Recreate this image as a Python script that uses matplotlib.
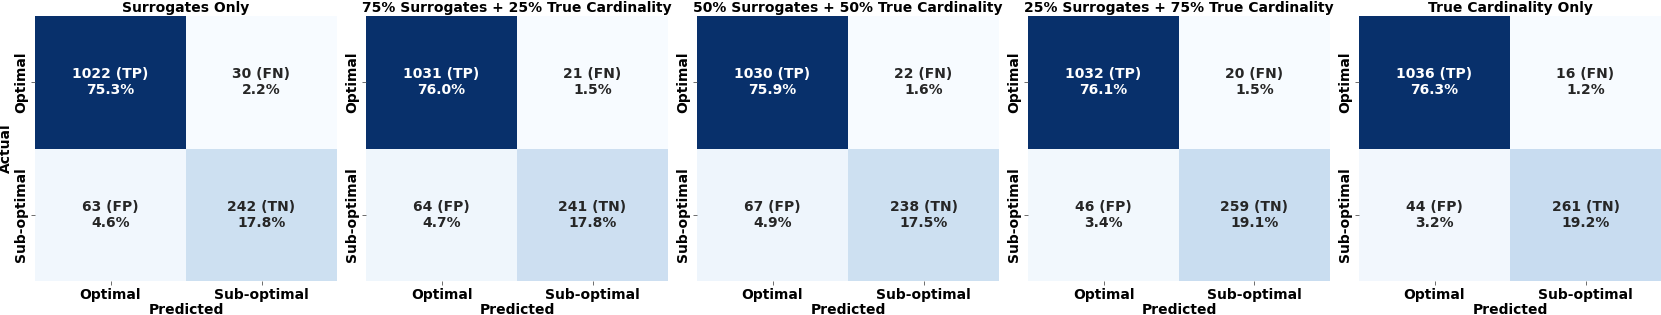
import numpy as np
import matplotlib
matplotlib.use("Agg")
import matplotlib.pyplot as plt
import seaborn as sns

plt.rcParams['font.family'] = ['DejaVu Sans']
plt.rcParams['font.weight'] = 'bold'

titles = ['Surrogates Only',
          '75% Surrogates + 25% True Cardinality',
          '50% Surrogates + 50% True Cardinality',
          '25% Surrogates + 75% True Cardinality',
          'True Cardinality Only']
# TP, FN, FP, TN
tp = [1022, 1031, 1030, 1032, 1036]
fn = [30, 21, 22, 20, 16]
fp = [63, 64, 67, 46, 44]
tn = [242, 241, 238, 259, 261]
classes = ['Optimal', 'Sub-optimal']
tags = [['TP', 'FN'], ['FP', 'TN']]

fig = plt.figure(figsize=(16.61, 3.15), dpi=100)
W, H = 1661, 315
lefts = [35, 366, 697, 1028, 1359]
pw, top, bot = 302, 16, 281

for i in range(5):
    cm = np.array([[tp[i], fn[i]], [fp[i], tn[i]]])
    tot = cm.sum()
    labels = np.array([[f'{cm[r, c]} ({tags[r][c]})\n{cm[r, c] / tot * 100:.1f}%'
                        for c in range(2)] for r in range(2)])
    ax = fig.add_axes([lefts[i] / W, 1 - bot / H, pw / W, (bot - top) / H])
    sns.heatmap(cm, annot=labels, fmt='', cmap='Blues', cbar=False, ax=ax,
                annot_kws={'fontsize': 10, 'fontweight': 'bold'})
    ax.set_title(titles[i], fontsize=10, fontweight='bold', pad=3)
    ax.set_xticklabels(classes, fontsize=10, fontweight='bold')
    ax.set_yticklabels(classes, fontsize=10, fontweight='bold', rotation=90, va='center')
    ax.tick_params(axis='both', length=3, width=0.6, pad=2, color='#555555')
    ax.set_xlabel('Predicted', fontsize=10, fontweight='bold', labelpad=1)
    if i == 0:
        ax.set_ylabel('Actual', fontsize=10, fontweight='bold', labelpad=1)

fig.savefig('out.png', dpi=100)
